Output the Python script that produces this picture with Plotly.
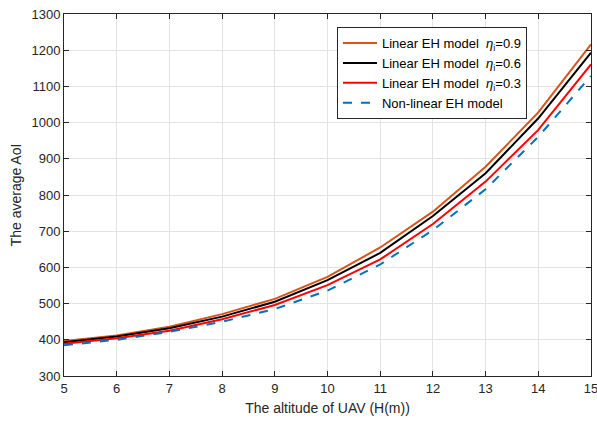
import plotly.graph_objects as go

altitude = [5, 6, 7, 8, 9, 10, 11, 12, 13, 14, 15]
aoi_linear_09 = [397, 412, 436, 471, 513, 574, 655, 754, 878, 1028, 1216]
aoi_linear_06 = [393, 409, 432, 464, 505, 565, 640, 742, 860, 1012, 1193]
aoi_linear_03 = [389, 404, 425, 457, 496, 551, 622, 720, 837, 980, 1161]
aoi_nonlinear = [385, 400, 422, 450, 485, 536, 608, 703, 816, 961, 1129]

series = [
    ("Linear EH model  <i>η</i><sub>i</sub>=0.9", aoi_linear_09, "#D95319", "solid"),
    ("Linear EH model  <i>η</i><sub>i</sub>=0.6", aoi_linear_06, "#000000", "solid"),
    ("Linear EH model  <i>η</i><sub>i</sub>=0.3", aoi_linear_03, "#FF0000", "solid"),
    ("Non-linear EH model", aoi_nonlinear, "#0072BD", "dash"),
]

fig = go.Figure()
for name, ys, color, dash in series:
    fig.add_trace(go.Scatter(
        x=altitude, y=ys, mode="lines", name=name,
        line=dict(color=color, width=2, dash=dash),
    ))

axis_common = dict(
    showline=True, linecolor="#262626", linewidth=1, mirror="ticks",
    ticks="inside", ticklen=5, tickcolor="#262626",
    showgrid=True, gridcolor="#E3E3E3", gridwidth=1,
    zeroline=False,
    tickfont=dict(size=13, color="#262626"),
    ticklabeloverflow="allow",
)

fig.update_layout(
    width=597, height=421,
    margin=dict(l=64, r=6, t=14, b=45),
    paper_bgcolor="white", plot_bgcolor="white",
    font=dict(family="Liberation Sans, Arial, sans-serif", color="#262626"),
    xaxis=dict(range=[5, 15], dtick=1, automargin=False,
               title=dict(text="The altitude of UAV (H(m))", font=dict(size=14), standoff=8),
               **axis_common),
    yaxis=dict(range=[300, 1300], dtick=100, automargin=False,
               title=dict(text="The average AoI", font=dict(size=14), standoff=6),
               **axis_common),
    legend=dict(
        x=0.518, y=0.964, xanchor="left", yanchor="top",
        bgcolor="white", bordercolor="#262626", borderwidth=1,
        font=dict(size=13, color="#000000"),
        tracegroupgap=0, itemwidth=34,
    ),
    showlegend=True,
)

fig.write_html("out.html")
